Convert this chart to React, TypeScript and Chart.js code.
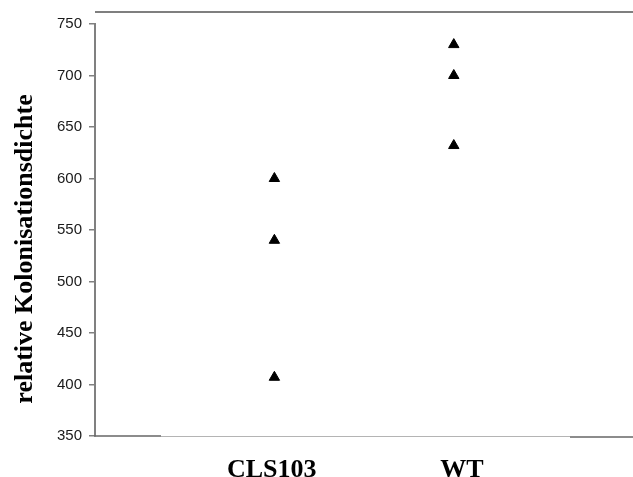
import React, { useEffect, useRef } from 'react';
import { Chart, registerables } from 'chart.js';

Chart.register(...registerables);

const categories = ['CLS103', 'WT'];
const cls103Values = [600, 540, 407];
const wtValues = [730, 700, 632];
const yMin = 350;
const yMax = 750;
const yStep = 50;
const yTitle = 'relative Kolonisationsdichte';

const seriesValues = [cls103Values, wtValues];
// the category labels sit slightly off the point columns in the original
const labelShift = [-0.015, 0.045];

const framePlugin = {
  id: 'frame',
  beforeDatasetsDraw(chart: any) {
    const { ctx, chartArea: a, width } = chart;
    ctx.save();
    // top line
    ctx.strokeStyle = '#555';
    ctx.lineWidth = 1.5;
    ctx.beginPath();
    ctx.moveTo(a.left, a.top - 12);
    ctx.lineTo(width, a.top - 12);
    ctx.stroke();
    // bottom line: dark - light - dark
    ctx.strokeStyle = '#666';
    ctx.lineWidth = 1.5;
    ctx.beginPath();
    ctx.moveTo(a.left - 1, a.bottom);
    ctx.lineTo(a.left + 66, a.bottom);
    ctx.stroke();
    ctx.beginPath();
    ctx.moveTo(a.left + 475, a.bottom + 1);
    ctx.lineTo(width, a.bottom + 1);
    ctx.stroke();
    ctx.strokeStyle = '#b4b4b4';
    ctx.lineWidth = 1;
    ctx.beginPath();
    ctx.moveTo(a.left + 66, a.bottom + 0.5);
    ctx.lineTo(a.left + 475, a.bottom + 0.5);
    ctx.stroke();
    // y title
    ctx.font = 'bold 26px "Liberation Serif", "Times New Roman", serif';
    ctx.fillStyle = '#000';
    ctx.translate(25, (a.top + a.bottom) / 2 + 19);
    ctx.rotate(-Math.PI / 2);
    ctx.textAlign = 'center';
    ctx.textBaseline = 'middle';
    ctx.fillText(yTitle, 0, 0);
    ctx.restore();
  },
};

export default function App() {
  const canvasRef = useRef<HTMLCanvasElement | null>(null);

  useEffect(() => {
    if (!canvasRef.current) return;
    const chart = new Chart(canvasRef.current, {
      type: 'scatter',
      data: {
        datasets: categories.map((c, i) => ({
          label: c,
          data: seriesValues[i].map((v) => ({ x: i + 1, y: v })),
          pointStyle: 'triangle',
          pointRadius: 6,
          pointBackgroundColor: '#000',
          pointBorderColor: '#000',
          pointBorderWidth: 1,
        })),
      },
      options: {
        animation: false,
        responsive: false,
        layout: { padding: { top: 24, left: 0, right: 0, bottom: 0 } },
        plugins: {
          legend: { display: false },
          tooltip: { enabled: false },
        },
        scales: {
          x: {
            type: 'linear',
            min: 0,
            max: 2.96,
            grid: { display: false },
            border: { display: false },
            afterBuildTicks: (scale: any) => {
              scale.ticks = categories.map((_, i) => ({ value: i + 1 + labelShift[i] }));
            },
            afterFit: (scale: any) => {
              scale.height = 41;
            },
            ticks: {
              padding: 11,
              color: '#000',
              font: { family: '"Liberation Serif", "Times New Roman", serif', size: 26, weight: 'bold' },
              callback: (_v: any, index: number) => categories[index] ?? '',
              maxRotation: 0,
              autoSkip: false,
            },
          },
          y: {
            min: yMin,
            max: yMax,
            afterFit: (scale: any) => {
              scale.width = 95;
            },
            grid: {
              drawOnChartArea: false,
              drawTicks: true,
              tickLength: 6,
              color: '#808080',
              lineWidth: 1.5,
            },
            border: { display: true, color: '#808080', width: 2 },
            ticks: {
              stepSize: yStep,
              padding: 7,
              color: '#1a1a1a',
              font: { family: '"Liberation Sans", Arial, sans-serif', size: 15 },
            },
          },
        },
      },
      plugins: [framePlugin],
    });
    return () => chart.destroy();
  }, []);

  return (
    <div style={{ position: 'fixed', left: 0, top: 0, width: 633, height: 477, background: '#fff' }}>
      <canvas ref={canvasRef} width={633} height={477} style={{ display: 'block' }} />
    </div>
  );
}
